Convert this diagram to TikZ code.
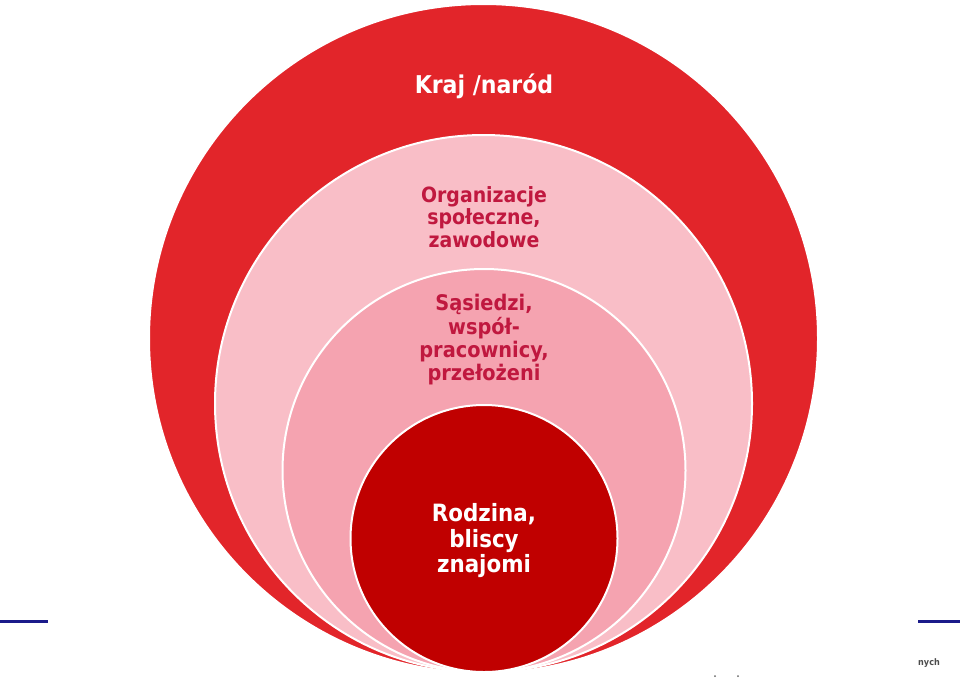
\documentclass[tikz,border=0pt]{standalone}
\usepackage{fontspec}
\setmainfont{DejaVu Sans Condensed}
\newfontfamily\labfont{DejaVu Sans Condensed Bold}
\definecolor{outerred}{HTML}{E2252A}
\definecolor{pinkA}{HTML}{F9BEC7}
\definecolor{pinkB}{HTML}{F5A3B0}
\definecolor{innerred}{HTML}{C00000}
\definecolor{crimson}{HTML}{C0183F}
\definecolor{navyline}{HTML}{1B1B8A}
\begin{document}
\begin{tikzpicture}[x=1pt,y=-1pt,
  ring/.style={draw=white,line width=2pt},
  lab/.style={align=center,inner sep=0pt,font=\labfont\fontsize{21.5}{23.3}\selectfont},
  footline/.style={draw=navyline,line width=3pt}]
\useasboundingbox (0,0) rectangle (960,681);
\fill[white] (0,0) rectangle (960,681);
% circles
\path[ring,fill=outerred] (483.5,338.5) circle[radius=334.5];
\path[ring,fill=pinkA] (483.5,403.5) circle[radius=268.5];
\path[ring,fill=pinkB] (484,470.5) circle[radius=201.5];
\path[ring,fill=innerred] (484,538.5) circle[radius=133.5];
% labels
\node[lab,text=white,font=\labfont\fontsize{24.5}{27}\selectfont] (kraj) at (484,86) {Kraj /naród};
\node[lab,text=crimson,font=\labfont\fontsize{21}{22.5}\selectfont] (org) at (484,217) {Organizacje\\społeczne,\\zawodowe};
\node[lab,text=crimson] (sas) at (484,340) {Sąsiedzi,\\współ-\\pracownicy,\\przełożeni};
\node[lab,text=white,font=\labfont\fontsize{23.8}{25.5}\selectfont] (rod) at (484,541) {Rodzina,\\bliscy\\znajomi};
% footer remnants
\coordinate (l1) at (0,621); \coordinate (l2) at (48,621);
\coordinate (r1) at (918,621); \coordinate (r2) at (960,621);
\draw[footline] (l1) -- (l2);
\draw[footline] (r1) -- (r2);
\node[inner sep=0pt,text=black!70,font=\labfont\fontsize{9}{10}\selectfont] (nych) at (929,663) {nych};
\fill[black!60] (715,676) circle[radius=1];
\fill[black!60] (738,676) circle[radius=1];
\end{tikzpicture}
\end{document}
